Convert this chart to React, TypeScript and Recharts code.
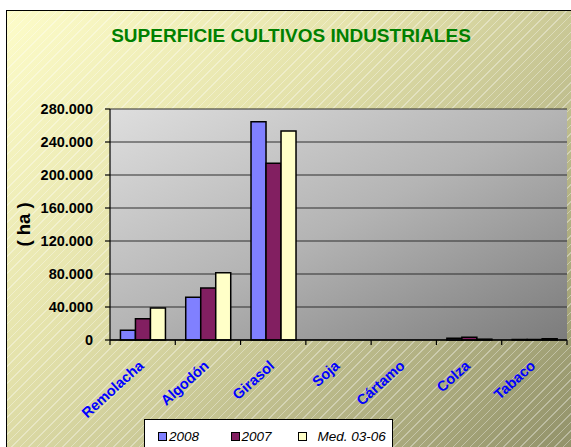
import React from "react";
import { BarChart, Bar, XAxis, YAxis, CartesianGrid, Legend } from "recharts";

const categories = ["Remolacha", "Algodón", "Girasol", "Soja", "Cártamo", "Colza", "Tabaco"];
const values2008 = [11800, 51700, 264600, 0, 0, 2200, 600];
const values2007 = [25800, 63000, 214200, 0, 0, 3200, 600];
const valuesMed = [38800, 81600, 253300, 0, 0, 1000, 1500];
const seriesNames = ["2008", "2007", "Med. 03-06"];
const yTicks = [0, 40000, 80000, 120000, 160000, 200000, 240000, 280000];

const data = categories.map((name, i) => ({
  name,
  y2008: values2008[i],
  y2007: values2007[i],
  med: valuesMed[i],
}));

const FONT = "'Liberation Sans', Arial, sans-serif";

const fmt = (v: number) => String(v).replace(/\B(?=(\d{3})+(?!\d))/g, ".");

function CategoryTick(props: any) {
  const { x, y, payload, index, visibleTicksCount } = props;
  const half = payload.offset || 457 / 14;
  const last = index === (visibleTicksCount ?? categories.length) - 1;
  return (
    <g>
      <line x1={x - half} y1={y} x2={x - half} y2={y + 5} stroke="#000" strokeWidth={1.2} />
      {last && <line x1={x + half} y1={y} x2={x + half} y2={y + 5} stroke="#000" strokeWidth={1.2} />}
      <text
        transform={`translate(${x + 2},${y + 27}) rotate(-42)`}
        textAnchor="end"
        fill="#0000ff"
        fontWeight="bold"
        fontSize={14.5}
        fontFamily={FONT}
      >
        {payload.value}
      </text>
    </g>
  );
}

// legend entries: [item width, gap between square and text]
const legendLayout = [
  [72.5, 2],
  [67, 2],
  [90, 11],
];

function LegendBox(props: any) {
  const items = [...(props.payload || [])].sort(
    (a: any, b: any) => seriesNames.indexOf(a.value) - seriesNames.indexOf(b.value)
  );
  return (
    <div
      style={{
        background: "#fff",
        border: "1px solid #000",
        height: 40,
        boxSizing: "border-box",
        display: "flex",
        paddingLeft: 13,
        paddingTop: 8,
        fontFamily: FONT,
        fontStyle: "italic",
        fontSize: 13.5,
        whiteSpace: "nowrap",
      }}
    >
      {items.map((it: any, i: number) => (
        <div key={it.value} style={{ display: "flex", alignItems: "center", width: legendLayout[i][0], height: 16 }}>
          <span
            style={{
              display: "inline-block",
              width: 7,
              height: 7,
              background: it.color,
              border: "1px solid #000",
              marginRight: legendLayout[i][1],
            }}
          />
          <span>{it.value}</span>
        </div>
      ))}
    </div>
  );
}

export default function App() {
  return (
    <div style={{ position: "absolute", left: 0, top: 0, width: 571, height: 447, overflow: "hidden", background: "#fff" }}>
      <div
        style={{
          position: "absolute",
          left: 6,
          top: 10,
          width: 580,
          height: 460,
          border: "1.5px solid #000",
          background:
            "repeating-linear-gradient(135deg, rgba(255,255,255,0) 0px, rgba(255,255,255,0) 5px, rgba(255,255,255,0.35) 5px, rgba(255,255,255,0.35) 6px), linear-gradient(135deg, #fdfcc9 0%, #e4e2ab 35%, #bdbc8c 65%, #8d8d66 100%)",
        }}
      />
      <div
        style={{
          position: "absolute",
          left: 0,
          width: 582,
          top: 25,
          textAlign: "center",
          color: "#008000",
          fontFamily: FONT,
          fontWeight: "bold",
          fontSize: 19,
        }}
      >
        SUPERFICIE CULTIVOS INDUSTRIALES
      </div>
      <div style={{ position: "absolute", left: 0, top: 0 }}>
        <BarChart
          width={571}
          height={447}
          data={data}
          margin={{ top: 109, right: 4, left: 10, bottom: 47 }}
          barCategoryGap="16%"
          barGap={0}
        >
          <defs>
            <linearGradient id="plotBg" x1="0" y1="0" x2="1" y2="1">
              <stop offset="0%" stopColor="#dedede" />
              <stop offset="50%" stopColor="#b4b4b4" />
              <stop offset="100%" stopColor="#7c7c7c" />
            </linearGradient>
          </defs>
          <CartesianGrid vertical={false} stroke="#2f2f2f" strokeWidth={1.2} fill="url(#plotBg)" />
          <XAxis
            dataKey="name"
            height={60}
            interval={0}
            tickSize={0}
            tickMargin={0}
            tickLine={false}
            axisLine={{ stroke: "#000", strokeWidth: 1.5 }}
            tick={<CategoryTick />}
          />
          <YAxis
            width={100}
            domain={[0, 280000]}
            ticks={yTicks}
            interval={0}
            tickFormatter={fmt}
            tickSize={5}
            tickMargin={12}
            axisLine={{ stroke: "#000", strokeWidth: 1.2 }}
            tickLine={{ stroke: "#000", strokeWidth: 1.2 }}
            tick={{ fill: "#000", fontSize: 14.5, fontWeight: "bold", fontFamily: FONT }}
            label={{
              value: "( ha )",
              angle: -90,
              position: "center",
              dx: -37,
              fill: "#000",
              fontSize: 18.5,
              fontWeight: "bold",
              fontFamily: FONT,
            }}
          />
          <Legend
            layout="horizontal"
            verticalAlign="middle"
            align="center"
            wrapperStyle={{ position: "absolute", left: 144, top: 419, width: 249, height: 40 }}
            content={<LegendBox />}
          />
          <Bar dataKey="y2008" name="2008" fill="#8080ff" stroke="#000" strokeWidth={1.5} isAnimationActive={false} />
          <Bar dataKey="y2007" name="2007" fill="#821f61" stroke="#000" strokeWidth={1.5} isAnimationActive={false} />
          <Bar dataKey="med" name="Med. 03-06" fill="#ffffc8" stroke="#000" strokeWidth={1.5} isAnimationActive={false} />
        </BarChart>
      </div>
    </div>
  );
}
